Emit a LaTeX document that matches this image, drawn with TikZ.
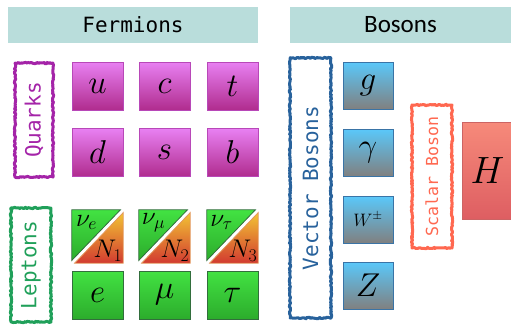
\documentclass[tikz,border=0pt]{standalone}
\usepackage{fix-cm}
\usepackage{fontspec}
\newfontfamily\monof{DejaVu Sans Mono}
\newfontfamily\carl{Carlito}
\usetikzlibrary{decorations.pathmorphing}
\definecolor{hdr}{RGB}{185,221,219}
\definecolor{qtop}{RGB}{232,128,242}
\definecolor{qbot}{RGB}{176,44,142}
\definecolor{qbor}{RGB}{184,72,184}
\definecolor{ltop}{RGB}{66,226,66}
\definecolor{lbot}{RGB}{44,172,44}
\definecolor{lbor}{RGB}{50,110,60}
\definecolor{ntop}{RGB}{242,196,52}
\definecolor{nbot}{RGB}{210,58,48}
\definecolor{nbor}{RGB}{226,150,90}
\definecolor{btop}{RGB}{90,200,250}
\definecolor{bbot}{RGB}{128,128,128}
\definecolor{bbor}{RGB}{58,116,166}
\definecolor{htop}{RGB}{246,138,122}
\definecolor{hbot}{RGB}{222,94,98}
\definecolor{hbor}{RGB}{204,100,100}
\definecolor{qlab}{RGB}{164,36,168}
\definecolor{llab}{RGB}{32,160,90}
\definecolor{vlab}{RGB}{40,98,156}
\definecolor{slab}{RGB}{255,104,80}
\begin{document}
\begin{tikzpicture}[x=1pt,y=-1pt,
  header/.style={fill=hdr, draw=none, inner sep=0pt, minimum height=36pt},
  cell/.style={draw, line width=0.8pt, minimum width=51pt, minimum height=48pt, inner sep=0pt, font=\fontsize{33}{33}\selectfont},
  quark/.style={cell, draw=qbor, top color=qtop, bottom color=qbot},
  lepton/.style={cell, draw=lbor, top color=ltop, bottom color=lbot},
  boson/.style={cell, minimum width=50pt, minimum height=47pt, draw=bbor, top color=btop, bottom color=bbot},
  higgs/.style={cell, minimum width=51pt, minimum height=97pt, draw=hbor, top color=htop, bottom color=hbot, font=\fontsize{38}{38}\selectfont},
  nucell/.style={minimum width=51pt, minimum height=53pt, inner sep=0pt},
  nutext/.style={inner sep=0pt, font=\fontsize{25.5}{25.5}\selectfont},
  lab/.style={rotate=90, draw, line width=3pt, line join=round, decorate,
    decoration={random steps, segment length=1.3pt, amplitude=0.7pt},
    inner sep=0pt, font=\monof\fontsize{21}{21}\selectfont}
]
\useasboundingbox (0,0) rectangle (511,324);
% headers
\node[header, minimum width=250pt] (ferm) at (133,25) {\monof\fontsize{21}{21}\selectfont Fermions};
\node[header, minimum width=221pt] (bos) at (400.5,25) {\carl\fontsize{25}{25}\selectfont Bosons};
% labels
\node[lab, draw=qlab, text=qlab, minimum width=114pt, minimum height=38pt] (qk) at (34,120) {Quarks};
\node[lab, draw=llab, text=llab, minimum width=114pt, minimum height=40pt] (lp) at (31,265) {Leptons};
\node[lab, draw=vlab, text=vlab, minimum width=260pt, minimum height=41pt] (vb) at (310.5,188) {Vector Bosons};
\node[lab, draw=slab, text=slab, minimum width=143pt, minimum height=40pt, font=\monof\fontsize{16.6}{16.6}\selectfont] (sb) at (432,176.5) {Scalar Boson};
% quarks
\node[quark] (u) at (97.5,86) {$u$};
\node[quark] (c) at (164.5,86) {$c$};
\node[quark] (t) at (232.5,86) {$t$};
\node[quark] (d) at (97.5,152.5) {$d$};
\node[quark] (s) at (164.5,152.5) {$s$};
\node[quark] (b) at (232.5,152.5) {$b$};
% neutrinos
\foreach \cx/\i/\fl in {97.5/1/e, 164.5/2/\mu, 232.5/3/\tau}{
  \node[nucell] (nu\i) at (\cx,236.5) {};
  \path[draw=lbor, line width=0.8pt, top color=ltop, bottom color=lbot]
    (nu\i.north west) -- ([xshift=-2.8pt]nu\i.north east) -- ([yshift=2.8pt]nu\i.south west) -- cycle;
  \path[draw=nbor, line width=0.8pt, top color=ntop, bottom color=nbot]
    ([yshift=-2.8pt]nu\i.north east) -- (nu\i.south east) -- ([xshift=2.8pt]nu\i.south west) -- cycle;
  \node[nutext] (nl\i) at ([xshift=-11pt,yshift=14pt]nu\i.center) {$\nu_{\fl}$};
  \node[nutext] (Nl\i) at ([xshift=10.5pt,yshift=-14.5pt]nu\i.center) {$N_{\i}$};
}
% charged leptons
\node[lepton] (e) at (97.5,295) {$e$};
\node[lepton] (mu) at (164.5,295) {$\mu$};
\node[lepton] (tau) at (232.5,295) {$\tau$};
% bosons
\node[boson] (g) at (368,85.5) {$g$};
\node[boson] (gam) at (368,152.5) {$\gamma$};
\node[boson, font=\fontsize{18}{18}\selectfont] (W) at (368,219.5) {$W^{\pm}$};
\node[boson] (Z) at (368,285.5) {$Z$};
\node[higgs] (H) at (487.5,170.5) {$H$};
\end{tikzpicture}
\end{document}
